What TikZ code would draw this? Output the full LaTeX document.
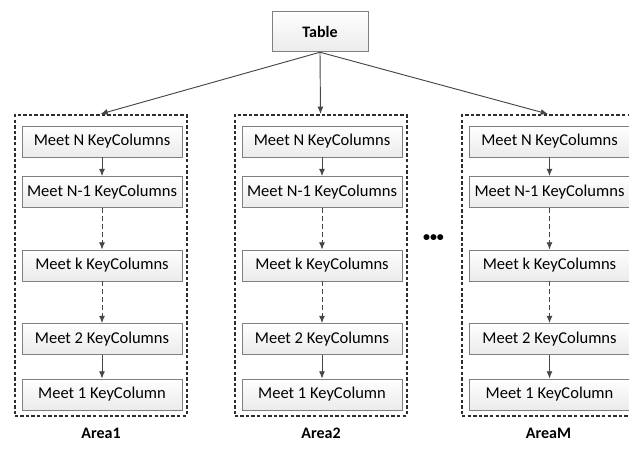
\documentclass[tikz,border=0pt]{standalone}
\usepackage{fontspec}
\setmainfont{Carlito}
\usetikzlibrary{arrows.meta}

\definecolor{edgegray}{RGB}{128,128,128}
\definecolor{arrowgray}{RGB}{70,70,70}
\definecolor{dashgray}{RGB}{45,45,45}

\tikzset{
  keybox/.style={draw=edgegray, line width=0.6pt, top color=white, bottom color=black!8,
    minimum width=120pt, minimum height=23.25pt, inner sep=0pt,
    font=\fontsize{12.4}{14}\selectfont},
  tablebox/.style={keybox, minimum width=72pt, minimum height=30.5pt,
    font=\fontsize{12}{14}\selectfont\bfseries},
  areabox/.style={draw=dashgray, line width=1.5pt, dash pattern=on 2.6pt off 1.6pt,
    minimum width=129pt, minimum height=225.75pt, inner sep=0pt},
  arealabel/.style={font=\fontsize{12}{14}\selectfont\bfseries, inner sep=0pt},
  flow/.style={draw=arrowgray, line width=0.7pt, -{Latex[length=5.5pt,width=4.5pt]}},
  flowdash/.style={flow, dash pattern=on 3.5pt off 2.5pt}
}

\begin{document}
\begin{tikzpicture}[x=0.75pt,y=-0.75pt]
\useasboundingbox (0,0) rectangle (629,459);
\clip (0,0) rectangle (629,459);

% root table
\node[tablebox] (T) at (320,31.5) {Table};

% one column of key-column levels per area
\foreach \c/\n/\lab in {102/1/Area1, 322/2/Area2, 549.5/3/AreaM}{
  \node[areabox] (A\n) at (\c-1.5,265.5) {};
  \node[keybox] (A\n r1) at (\c,141.5) {Meet N KeyColumns};
  \node[keybox] (A\n r2) at (\c,192) {Meet N-1 KeyColumns};
  \node[keybox] (A\n r3) at (\c,265.5) {Meet k KeyColumns};
  \node[keybox] (A\n r4) at (\c,339) {Meet 2 KeyColumns};
  \node[keybox] (A\n r5) at (\c,394.5) {Meet 1 KeyColumn};
  \node[arealabel] (L\n) at (\c-1,433) {\lab};
  \draw[flow] (A\n r1) -- (A\n r2);
  \draw[flowdash] (A\n r2) -- (A\n r3);
  \draw[flowdash] (A\n r3) -- (A\n r4);
  \draw[flow] (A\n r4) -- (A\n r5);
  \draw[flow] (T.south) -- (A\n.north);
}

% more areas in between
\node[font=\fontsize{10.5}{12}\selectfont\bfseries, inner sep=0pt] (dots) at (433.5,238.5) {•••};
\end{tikzpicture}
\end{document}
